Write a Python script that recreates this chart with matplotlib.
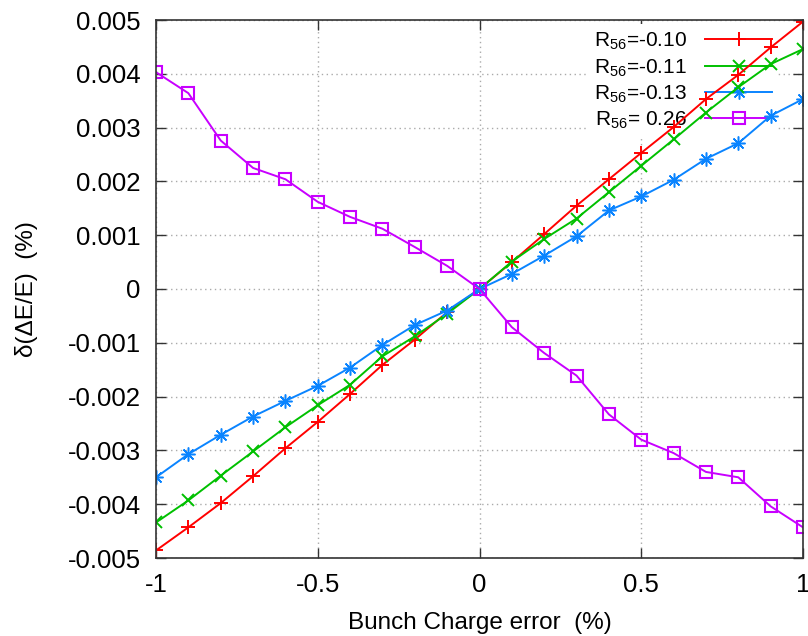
import matplotlib
matplotlib.use("Agg")
import matplotlib.pyplot as plt

plt.rcParams['font.family'] = ['Liberation Sans', 'DejaVu Sans']
plt.rcParams['axes.unicode_minus'] = False
plt.rcParams['mathtext.fontset'] = 'custom'
plt.rcParams['mathtext.rm'] = 'Liberation Sans'

# bunch charge error (%)
charge_err = [-1.0, -0.9, -0.8, -0.7, -0.6, -0.5, -0.4, -0.3, -0.2, -0.1, 0.0,
              0.1, 0.2, 0.3, 0.4, 0.5, 0.6, 0.7, 0.8, 0.9, 1.0]

# energy spread change for each R56 setting
de_r56_010 = [-0.00486, -0.00443, -0.00398, -0.00348, -0.00296, -0.00247, -0.00195,
              -0.00141, -0.00094, -0.00043, 0.0,
              0.00050, 0.00102, 0.00155, 0.00204, 0.00253, 0.00301, 0.00353,
              0.00398, 0.00449, 0.00497]
de_r56_011 = [-0.00434, -0.00393, -0.00347, -0.00302, -0.00257, -0.00216, -0.00178,
              -0.00125, -0.00088, -0.00046, 0.0,
              0.00051, 0.00093, 0.00131, 0.00180, 0.00229, 0.00278, 0.00328,
              0.00375, 0.00418, 0.00446]
de_r56_013 = [-0.00350, -0.00307, -0.00271, -0.00237, -0.00208, -0.00180, -0.00146,
              -0.00104, -0.00067, -0.00040, 0.0,
              0.00028, 0.00062, 0.00098, 0.00146, 0.00172, 0.00203, 0.00242,
              0.00271, 0.00322, 0.00353]
de_r56_026 = [0.00403, 0.00364, 0.00276, 0.00225, 0.00204, 0.00162, 0.00134,
              0.00112, 0.00078, 0.00043, 0.0,
              -0.00071, -0.00119, -0.00161, -0.00233, -0.00280, -0.00305, -0.00340,
              -0.00350, -0.00404, -0.00443]

labels = ['R$_{56}$=-0.10', 'R$_{56}$=-0.11', 'R$_{56}$=-0.13', 'R$_{56}$= 0.26']

xticks = [-1, -0.5, 0, 0.5, 1]
xticklabels = ['-1', '-0.5', '0', '0.5', '1']
yticks = [-0.005, -0.004, -0.003, -0.002, -0.001, 0, 0.001, 0.002, 0.003, 0.004, 0.005]
yticklabels = ['-0.005', '-0.004', '-0.003', '-0.002', '-0.001', '0',
               '0.001', '0.002', '0.003', '0.004', '0.005']

fig = plt.figure(figsize=(8.08, 6.36), dpi=100)
ax = fig.add_axes([156 / 808, 1 - 558 / 636, 647 / 808, 538 / 636])

lw = 1.4
ax.plot(charge_err, de_r56_010, color='#ff0000', lw=lw, marker='+', ms=10, mew=1.4, label=labels[0])
ax.plot(charge_err, de_r56_011, color='#00c000', lw=lw, marker='x', ms=8.5, mew=1.4, label=labels[1])
ax.plot(charge_err, de_r56_013, color='#0a84ff', lw=lw, marker=(8, 2, 0), ms=10, mew=1.1, label=labels[2])
ax.plot(charge_err, de_r56_026, color='#c800ff', lw=lw, marker='s', ms=8, mew=1.5,
        mfc='none', label=labels[3])

ax.set_xlim(-1, 1)
ax.set_ylim(-0.005, 0.005)
ax.set_xticks(xticks)
ax.set_xticklabels(xticklabels)
ax.set_yticks(yticks)
ax.set_yticklabels(yticklabels)
ax.tick_params(direction='in', length=7, width=1, top=True, right=True,
               labelsize=18.5, pad=11, color='#333333')

ax.set_axisbelow(True)
ax.grid(True, color='#aaaaaa', lw=1, linestyle=(0, (1, 2.5)))
for s in ax.spines.values():
    s.set_color('#333333')
    s.set_linewidth(1.2)

ax.set_xlabel('Bunch Charge error  (%)', fontsize=17.5)
ax.set_ylabel('δ(ΔE/E)  (%)', fontsize=17.5)
ax.xaxis.set_label_coords(0.5, -0.1)
ax.yaxis.set_label_coords(-0.183, 0.5)

leg = ax.legend(loc='upper right', bbox_to_anchor=(0.962, 0.992), borderaxespad=0,
                fontsize=15, markerfirst=False, numpoints=1, handlelength=3.2,
                handletextpad=0.9, labelspacing=0.23, borderpad=0.3,
                frameon=True, fancybox=False, edgecolor='none', facecolor='white',
                framealpha=1)
leg.set_zorder(1.5)

fig.savefig('out.png', dpi=100)
